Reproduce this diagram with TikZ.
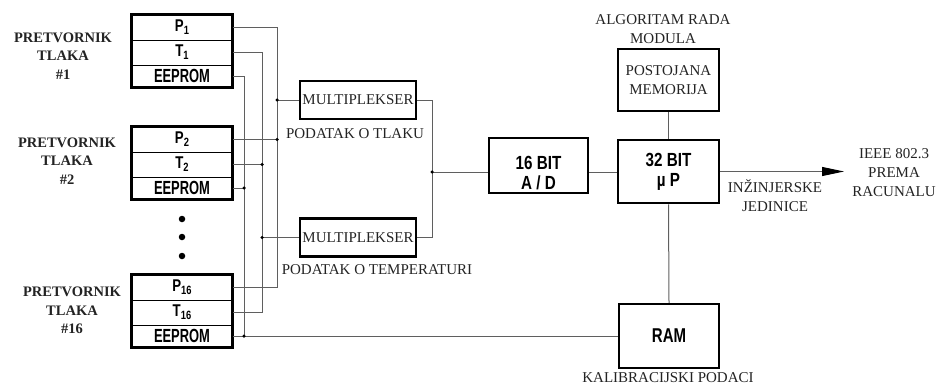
\documentclass[tikz,border=0pt]{standalone}
\usepackage{fontspec}
\usepackage{graphicx}
\setmainfont{Liberation Serif}
\newfontfamily\swissfont{Liberation Sans}
\usetikzlibrary{arrows.meta}
\definecolor{wirec}{RGB}{95,95,95}
\definecolor{txtc}{RGB}{35,35,35}
\newcommand{\cnd}[2][0.8]{\scalebox{#1}[1]{#2}}
\newcommand{\sbs}[1]{\raisebox{-0.35ex}{\fontsize{12}{12}\selectfont #1}}
\begin{document}
\begin{tikzpicture}[x=1pt,y=-1pt,
 wire/.style={draw=wirec, line width=1pt},
 sensrow/.style={draw=black, line width=1pt, minimum width=100pt, inner sep=0pt,
   font=\swissfont\bfseries\fontsize{17}{17}\selectfont},
 blk/.style={draw=black, line width=2.5pt, inner sep=0pt},
 serif15/.style={font=\fontsize{15}{19}\selectfont, text=txtc, align=center, inner sep=0pt},
 senslbl/.style={font=\bfseries\fontsize{14.5}{18.5}\selectfont, text=txtc, align=center, inner sep=0pt},
 swiss/.style={font=\swissfont\bfseries\fontsize{19}{20}\selectfont, align=center, inner sep=0pt},
 jdot/.style={circle, fill=black, inner sep=0pt, minimum size=3.5pt},
 bigdot/.style={circle, fill=black, inner sep=0pt, minimum size=6.5pt},
]
\useasboundingbox (0,0) rectangle (936,388);

% sensor blocks
\node[sensrow, minimum height=25pt] (p1) at (182,27.5) {\cnd[0.78]{P\sbs{1}}};
\node[sensrow, minimum height=25pt] (t1) at (182,52.5) {\cnd[0.78]{T\sbs{1}}};
\node[sensrow, minimum height=22pt] (e1) at (182,76) {\cnd[0.68]{\fontsize{19}{19}\selectfont EEPROM}};
\draw[black, line width=2.5pt] (p1.north west) rectangle (e1.south east);

\node[sensrow, minimum height=25pt] (p2) at (182,139.5) {\cnd[0.78]{P\sbs{2}}};
\node[sensrow, minimum height=25pt] (t2) at (182,164.5) {\cnd[0.78]{T\sbs{2}}};
\node[sensrow, minimum height=22pt] (e2) at (182,188) {\cnd[0.68]{\fontsize{19}{19}\selectfont EEPROM}};
\draw[black, line width=2.5pt] (p2.north west) rectangle (e2.south east);

\node[sensrow, minimum height=25pt] (p16) at (182,287.5) {\cnd[0.78]{P\sbs{16}}};
\node[sensrow, minimum height=25pt] (t16) at (182,312.5) {\cnd[0.78]{T\sbs{16}}};
\node[sensrow, minimum height=22pt] (e16) at (182,336) {\cnd[0.68]{\fontsize{19}{19}\selectfont EEPROM}};
\draw[black, line width=2.5pt] (p16.north west) rectangle (e16.south east);

\node[senslbl] (l1) at (63,56) {PRETVORNIK\\TLAKA\\\#1};
\node[senslbl] (l2) at (67,161) {PRETVORNIK\\TLAKA\\\#2};
\node[senslbl] (l16) at (72,310.5) {PRETVORNIK\\TLAKA\\\#16};

\node[bigdot] (b1) at (182,219) {};
\node[bigdot] (b2) at (182,237) {};
\node[bigdot] (b3) at (182,256) {};

% multiplexers
\node[blk, minimum width=116pt, minimum height=38pt, font=\fontsize{15}{15}\selectfont, text=txtc] (mux1) at (358,100) {MULTIPLEKSER};
\node[blk, minimum width=116pt, minimum height=38pt, font=\fontsize{15}{15}\selectfont, text=txtc] (mux2) at (358,237.5) {MULTIPLEKSER};
\node[serif15] (lt) at (355,134) {PODATAK O TLAKU};
\node[serif15] (ltemp) at (377,270) {PODATAK O TEMPERATURI};

% processing
\node[blk, minimum width=99pt, minimum height=55pt] (ad) at (538.5,165.5) {};
\node[swiss] (adt) at (538.5,173) {\cnd[0.8]{16 BIT}\\\cnd[0.8]{A / D}};
\node[blk, swiss, minimum width=101pt, minimum height=63pt] (up) at (668.5,171.5) {\cnd[0.8]{32 BIT}\\\cnd[0.8]{µ P}};
\node[blk, serif15, minimum width=101pt, minimum height=62pt] (mem) at (668.5,80) {POSTOJANA\\MEMORIJA};
\node[blk, swiss, minimum width=100pt, minimum height=64pt] (ram) at (669,336) {\cnd[0.75]{\fontsize{20}{20}\selectfont RAM}};

\node[serif15] (alg) at (663,29) {ALGORITAM RADA\\MODULA};
\node[serif15] (inz) at (775,195.5) {INŽINJERSKE\\JEDINICE};
\node[serif15] (ieee) at (894,172.5) {IEEE 802.3\\PREMA\\RACUNALU};
\node[serif15] (kal) at (668,378) {KALIBRACIJSKI PODACI};

% buses
\coordinate (pb) at (277,0);
\coordinate (tb) at (262,0);
\coordinate (eb) at (244,0);
\coordinate (j) at (432,172);
\coordinate (out) at (844,0);

\draw[wire] (p1.east) -| (pb |- p16.east) -- (p16.east);
\draw[wire] (p2.east) -- (pb |- p2.east);
\draw[wire] (mux1.west) -- (pb |- mux1.west);
\draw[wire] (t1.east) -| (tb |- t16.east) -- (t16.east);
\draw[wire] (t2.east) -- (tb |- t2.east);
\draw[wire] (mux2.west) -- (tb |- mux2.west);
\draw[wire] (e1.east) -| (eb |- e16.east);
\draw[wire] (e2.east) -- (eb |- e2.east);
\draw[wire] (e16.east) -- (ram.west);

\draw[wire] (mux1.east) -| (j);
\draw[wire] (mux2.east) -| (j);
\draw[wire] (j) -- (ad.west |- j);
\draw[wire] (ad.east |- j) -- (up.west |- j);
\draw[wire] (mem.south) -- (up.north);
\draw[wire] (up.south) -- (ram.north);
\draw[wire, -{Triangle[length=22pt,width=9pt,color=black]}] (up.east) -- (up.east -| out);

\node[jdot] (d1) at (pb |- p2.east) {};
\node[jdot] (d2) at (pb |- mux1.west) {};
\node[jdot] (d3) at (tb |- t2.east) {};
\node[jdot] (d4) at (tb |- mux2.west) {};
\node[jdot] (d5) at (eb |- e2.east) {};
\node[jdot] (d6) at (eb |- e16.east) {};
\node[jdot] (d7) at (j) {};
\end{tikzpicture}
\end{document}
